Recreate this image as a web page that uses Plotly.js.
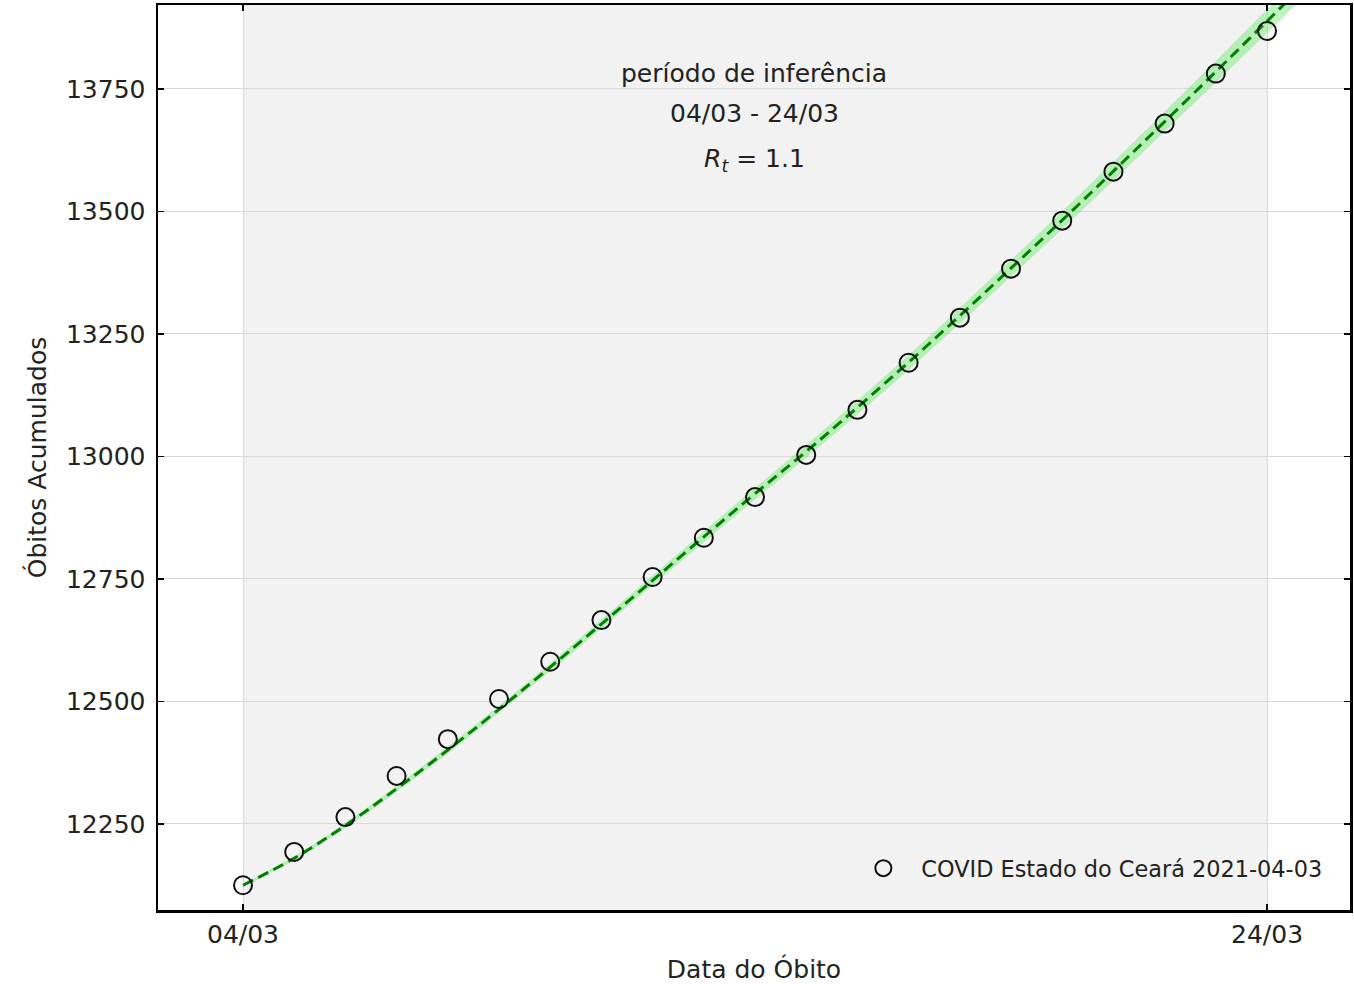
<!DOCTYPE html>
<html>
<head>
<meta charset="utf-8">
<script src="https://cdn.plot.ly/plotly-3.0.1.min.js"></script>
<style>html,body{margin:0;padding:0;background:#fff;}#chart{width:1354px;height:984px;}</style>
</head>
<body>
<div id="chart"></div>
<script>
// observed cumulative deaths (day offset from 04/03)
const obsDays = [0,1,2,3,4,5,6,7,8,9,10,11,12,13,14,15,16,17,18,19,20];
const obsValues = [12125,12193,12264,12348,12423,12505,12581,12666,12754,12834,12917,13003,13095,13191,13283,13383,13481,13581,13679,13781,13868];
// fitted model curve
const fitDays = [0,1,2,3,4,5,6,7,8,9,10,11,12,13,14,15,16,17,18,19,20,21];
const fitValues = [12125,12180,12247,12322,12401,12484,12570,12658,12747,12836,12924,13010,13100,13192,13287,13384,13482,13582,13683,13785,13888,13992];
const fitLower = [12122,12176,12242,12316,12394,12477,12562,12649,12737,12825,12912,12997,13086,13177,13271,13367,13464,13563,13663,13763,13864,13966];
const fitUpper = [12128,12184,12252,12328,12408,12491,12578,12667,12757,12847,12936,13023,13114,13207,13303,13401,13500,13601,13703,13807,13912,14018];
const tickDays = [0,20];
const tickLabels = ['04/03','24/03'];
const yTicks = [12250,12500,12750,13000,13250,13500,13750];
const periodStart = 0, periodEnd = 20;
const legendLabel = 'COVID Estado do Ceará 2021-04-03';

const font = 'DejaVu Sans, Verdana, sans-serif';

const traces = [
  {x: fitDays, y: fitLower, mode:'lines', line:{width:0, color:'rgba(0,0,0,0)', shape:'spline'}, showlegend:false, hoverinfo:'skip'},
  {x: fitDays, y: fitUpper, mode:'lines', fill:'tonexty', fillcolor:'rgba(110,230,110,0.45)', line:{width:0, color:'rgba(0,0,0,0)', shape:'spline'}, showlegend:false, hoverinfo:'skip'},
  {x: fitDays, y: fitValues, mode:'lines', line:{color:'#008000', width:3, dash:'11px,6px', shape:'spline'}, showlegend:false},
  {x: obsDays, y: obsValues, mode:'markers', name: legendLabel,
   marker:{symbol:'circle-open', size:18, color:'#111', line:{width:2, color:'#111'}}}
];

const axisCommon = {
  showline:true, linecolor:'#000', linewidth:2.5, mirror:'ticks',
  ticks:'inside', ticklen:6, tickwidth:1.5, tickcolor:'#000',
  showgrid:true, gridcolor:'#d9d9d9', gridwidth:1, zeroline:false,
  tickfont:{family:font, size:25, color:'#222'}
};

const layout = {
  width:1354, height:984,
  margin:{l:158, r:4, t:5, b:74},
  paper_bgcolor:'#fff', plot_bgcolor:'#fff',
  font:{family:font, color:'#222'},
  xaxis: Object.assign({}, axisCommon, {
    range:[-1.66, 21.62], tickvals: tickDays, ticktext: tickLabels,
    title:{text:'Data do Óbito', font:{family:font, size:25, color:'#222'}, standoff:16}
  }),
  yaxis: Object.assign({}, axisCommon, {
    range:[12074.5, 13921], tickvals: yTicks, tickformat:'d', ticklabelstandoff:5,
    title:{text:'Óbitos Acumulados', font:{family:font, size:25, color:'#222'}, standoff:12}
  }),
  shapes:[{type:'rect', xref:'x', yref:'paper', x0:periodStart, x1:periodEnd, y0:0, y1:1,
    fillcolor:'#f2f2f2', line:{width:0}, layer:'below'}],
  annotations:[
    {xref:'paper', yref:'paper', x:0.5, y:0.943, text:'período de inferência', showarrow:false, font:{family:font, size:25, color:'#222'}},
    {xref:'paper', yref:'paper', x:0.5, y:0.898, text:'04/03 - 24/03', showarrow:false, font:{family:font, size:25, color:'#222'}},
    {xref:'paper', yref:'paper', x:0.5, y:0.849, text:'<i>R<sub>t</sub></i> = 1.1', showarrow:false, font:{family:font, size:25, color:'#222'}}
  ],
  legend:{x:0.981, xanchor:'right', y:0.022, yanchor:'bottom', bgcolor:'rgba(0,0,0,0)', borderwidth:0,
    itemwidth:66, font:{family:font, size:22.4, color:'#222'}},
  showlegend:true
};

Plotly.newPlot('chart', traces, layout, {displayModeBar:false, staticPlot:true});
</script>
</body>
</html>
